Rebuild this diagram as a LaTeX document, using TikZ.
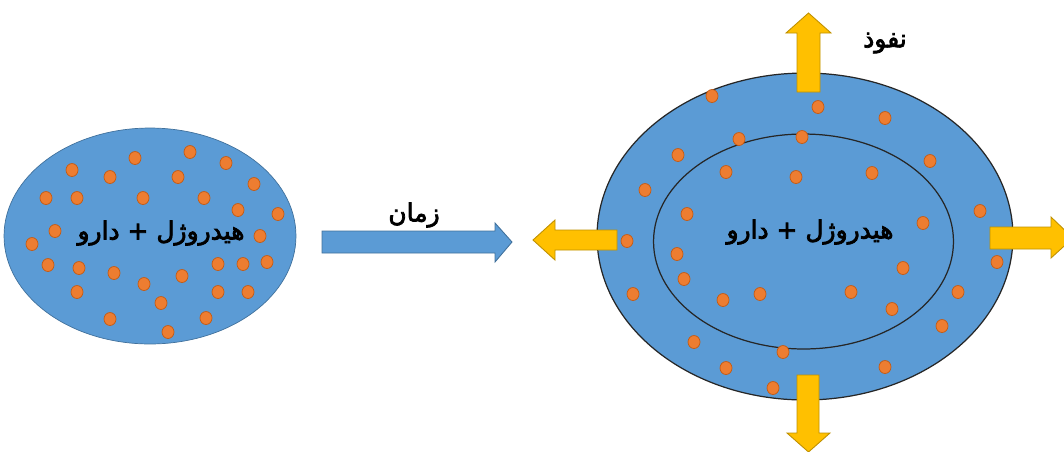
\documentclass[tikz,border=0pt]{standalone}
\usepackage{fontspec}
\usepackage{tikz}
\usepackage{xcolor}
\usetikzlibrary{shapes.geometric}
\TeXXeTstate=1
\newfontfamily\farsi[Script=Arabic,FakeBold=3]{DejaVu Sans}
\definecolor{gelblue}{HTML}{5B9BD5}
\definecolor{geledge}{HTML}{41719C}
\definecolor{drugorange}{HTML}{ED7D31}
\definecolor{drugedge}{HTML}{C55A11}
\definecolor{flowyellow}{HTML}{FFC000}
\definecolor{flowedge}{HTML}{BF9000}

\begin{document}
\begin{tikzpicture}[x=0.02cm,y=-0.02cm,
  gel/.style={ellipse,fill=gelblue,inner sep=0pt,outer sep=0pt},
  drug/.style={fill=drugorange,draw=drugedge,line width=0.4pt},
  flow/.style={fill=flowyellow,draw=flowedge,line width=0.5pt},
  label/.style={font=\farsi\fontsize{14.2}{17}\selectfont,inner sep=0pt}]

  \useasboundingbox (0,0) rectangle (1064,451);

  % hydrogel at the start
  \node[gel,draw=geledge,line width=0.4pt,minimum width=5.84cm,minimum height=4.32cm] (gel) at (150,236) {};
  \foreach \p in {(135,158),(190,152),(72,170),(110,177),(178,177),(226,163),
      (254,184),(46,198),(77,198),(143,198),(204,198),(238,210),(278,214),
      (55,231),(32,244),(260,236),(48,265),(79,268),(114,273),(182,276),
      (144,284),(218,264),(243,264),(267,262),(77,292),(161,303),(218,292),
      (248,292),(110,319),(206,318),(168,332)}
    \draw[drug] \p ellipse [x radius=6,y radius=6.5];
  \node[label] (gellabel) at (161,233) {\beginR هیدروژل + دارو\endR};

  % time arrow
  \draw[fill=gelblue,draw=geledge,line width=0.5pt]
    (322,231) -- (495,231) -- (495,223) -- (512,242) -- (495,262) -- (495,253) -- (322,253) -- cycle;
  \node[label] (time) at (414,215) {\beginR زمان\endR};

  % swollen hydrogel
  \node[gel,draw=black!85,line width=0.7pt,minimum width=8.32cm,minimum height=6.54cm] (swollen) at (805,236.5) {};
  \node[ellipse,draw=black!85,line width=0.7pt,inner sep=0pt,minimum width=6cm,minimum height=4.3cm] (core) at (803.5,241.5) {};
  \foreach \p in {(712,96),(818,107),(885,118),(739,139),(802,137),(678,155),
      (930,161),(726,172),(796,177),(872,173),(645,190),(980,211),(687,214),
      (923,223),(627,241),(677,254),(997,262),(903,268),(684,279),(633,294),
      (723,300),(760,294),(851,292),(958,292),(892,309),(942,326),(694,342),
      (783,352),(726,368),(885,367),(773,388)}
    \draw[drug] \p ellipse [x radius=6,y radius=6.5];
  \node[label] (corelabel) at (810,232) {\beginR هیدروژل + دارو\endR};

  % release arrows
  \draw[flow] (797,92) -- (797,33) -- (786,33) -- (808.5,13) -- (831,33) -- (820,33) -- (820,92) -- cycle;
  \draw[flow] (797,375) -- (797,433) -- (787,433) -- (808.5,452) -- (830,433) -- (819,433) -- (819,375) -- cycle;
  \draw[flow] (617,230) -- (555,230) -- (555,220) -- (533,240) -- (555,260) -- (555,250) -- (617,250) -- cycle;
  \draw[flow] (990,227) -- (1051,227) -- (1051,217) -- (1073,238) -- (1051,258) -- (1051,249) -- (990,249) -- cycle;
  \node[label] (release) at (885,43) {\beginR نفوذ\endR};
\end{tikzpicture}
\end{document}
